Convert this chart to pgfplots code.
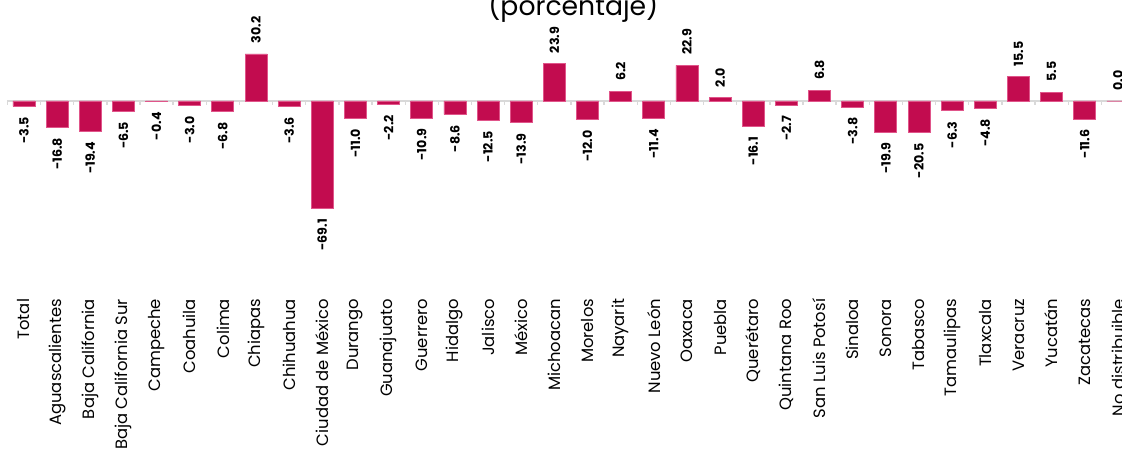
\documentclass[border=0pt]{standalone}
\usepackage{pgfplots}
\pgfplotsset{compat=1.18}
\usepackage{fontspec}
\setmainfont{Poppins}
\definecolor{barfill}{HTML}{C20C4F}
\definecolor{baredge}{HTML}{E0558A}
\definecolor{zeroline}{HTML}{D9D9D9}
\begin{document}
\begin{tikzpicture}
\useasboundingbox (0,0) rectangle (841.5pt,347.25pt);
\node[anchor=base,font=\fontsize{20}{24}\selectfont] at (430pt,335.7pt) {(porcentaje)};
\begin{axis}[
  at={(5.55pt,125.25pt)}, anchor=south west,
  scale only axis, width=845.3pt, height=187.1pt,
  xmin=-0.5, xmax=33.5, ymin=-125.3, ymax=35,
  clip=false,
  axis line style={draw=none},
  ytick=\empty,
  major tick length=0pt,
  xtick={0,...,33},
  xticklabels={Total,Aguascalientes,Baja California,Baja California Sur,Campeche,Coahuila,Colima,Chiapas,Chihuahua,Ciudad de México,Durango,Guanajuato,Guerrero,Hidalgo,Jalisco,México,Michoacan,Morelos,Nayarit,Nuevo León,Oaxaca,Puebla,Querétaro,Quintana Roo,San Luis Potosí,Sinaloa,Sonora,Tabasco,Tamaulipas,Tlaxcala,Veracruz,Yucatán,Zacatecas,No distribuible},
  xticklabel style={rotate=90, anchor=east, font=\fontsize{12.3}{14}\selectfont, inner sep=2pt},
  ybar, bar width=16.5pt,
  visualization depends on={y \as \rawy},
  nodes near coords={\pgfmathprintnumber[fixed,fixed zerofill,precision=1,assume math mode=true]{\pgfplotspointmeta}},
  nodes near coords style={rotate=90, font=\bfseries\fontsize{9.5}{11}\selectfont, inner sep=1pt, outer xsep=7pt},
  every node near coord/.append code={\ifdim\rawy pt<0pt \pgfkeysalso{anchor=east}\else\pgfkeysalso{anchor=west}\fi},
]
\draw[zeroline, line width=1.2pt] (axis cs:-0.5,0) -- (axis cs:33.5,0);
\foreach \i in {-0.5,0.5,...,33.5}{\edef\tmp{\noexpand\draw[zeroline, line width=1pt] (axis cs:\i,0) -- ++(0pt,-3pt);}\tmp}
\addplot[draw=baredge, line width=0.6pt, fill=barfill] coordinates {
(0,-3.5) (1,-16.8) (2,-19.4) (3,-6.5) (4,-0.4) (5,-3.0) (6,-6.8) (7,30.2) (8,-3.6) (9,-69.1)
(10,-11.0) (11,-2.2) (12,-10.9) (13,-8.6) (14,-12.5) (15,-13.9) (16,23.9) (17,-12.0) (18,6.2) (19,-11.4)
(20,22.9) (21,2.0) (22,-16.1) (23,-2.7) (24,6.8) (25,-3.8) (26,-19.9) (27,-20.5) (28,-6.3) (29,-4.8)
(30,15.5) (31,5.5) (32,-11.6) (33,0.0)
};
\end{axis}
\end{tikzpicture}
\end{document}
